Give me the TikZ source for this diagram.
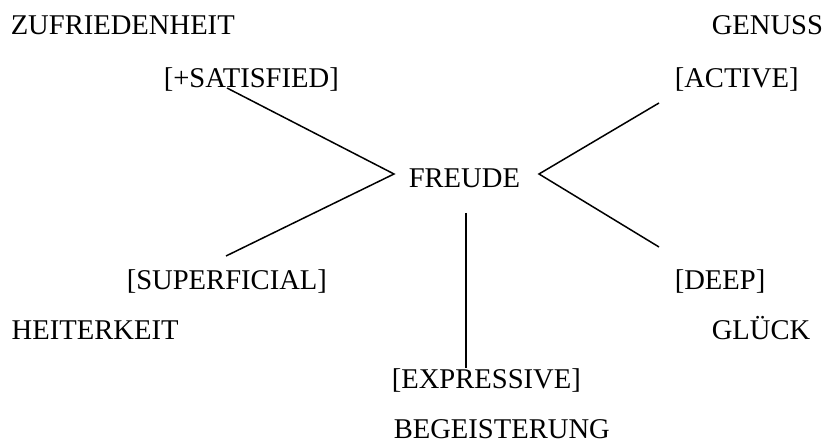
\documentclass[tikz,border=0pt]{standalone}
\usepackage{fontspec}
\setmainfont{Liberation Serif}
\begin{document}
\begin{tikzpicture}[x=0.5pt, y=-0.5pt, line width=0.75pt,
        lbl/.style={anchor=base west, inner sep=0pt, font=\fontsize{14.3}{17}\selectfont}]
            \useasboundingbox (0,0) rectangle (825,442);
            \node[lbl] (zuf) at (10,35) {ZUFRIEDENHEIT};
            \node[lbl] (gen) at (711,35) {GENUSS};
            \node[lbl] (sat) at (163,88) {[+SATISFIED]};
            \node[lbl] (act) at (674,88) {[ACTIVE]};
            \node[lbl] (freude) at (408,188) {FREUDE};
            \node[lbl] (sup) at (126,290) {[SUPERFICIAL]};
            \node[lbl] (deep) at (674,290) {[DEEP]};
            \node[lbl] (heit) at (11,340) {HEITERKEIT};
            \node[lbl] (gl) at (711,340) {GLÜCK};
            \node[lbl] (expr) at (391,389) {[EXPRESSIVE]};
            \node[lbl] (beg) at (393,439) {BEGEISTERUNG};
            \coordinate (hubL) at (394,174);
            \coordinate (hubR) at (539,174);
            \coordinate (satE) at (227,88);
            \coordinate (supE) at (226,256);
            \coordinate (actE) at (659,103);
            \coordinate (deepE) at (659,247);
            \coordinate (top) at (466,213);
            \coordinate (expE) at (466,368);
            \draw (satE) -- (hubL) -- (supE);
            \draw (actE) -- (hubR) -- (deepE);
            \draw (top) -- (expE);
        \end{tikzpicture}
\end{document}
